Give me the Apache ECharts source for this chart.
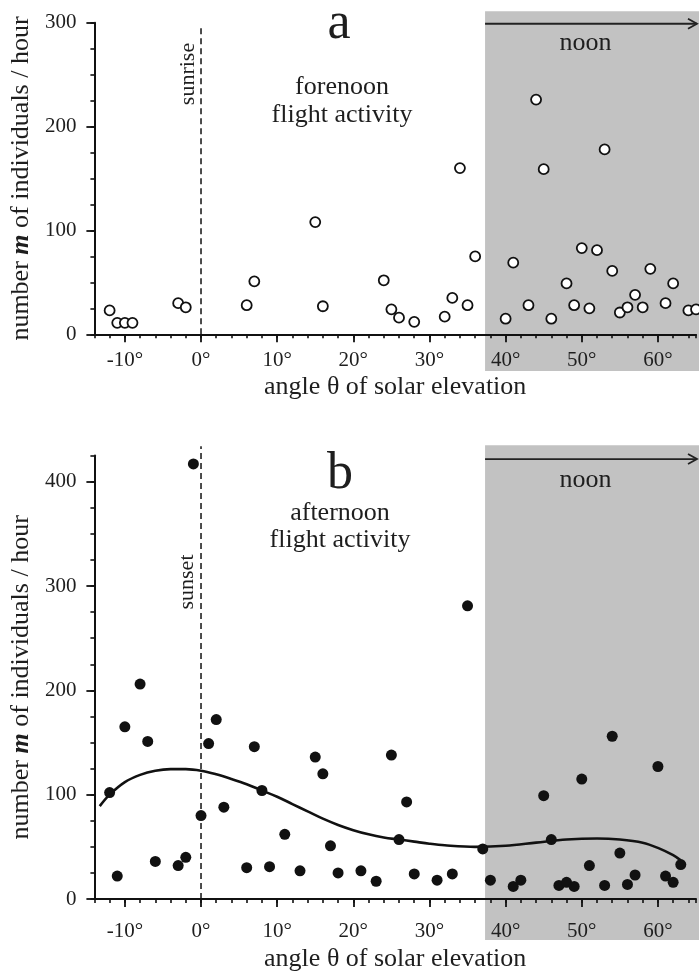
<!DOCTYPE html>
<html>
<head>
<meta charset="utf-8">
<script src="https://cdn.jsdelivr.net/npm/echarts@6/dist/echarts.min.js"></script>
<style>html,body{margin:0;padding:0;background:#fff}#c{width:699px;height:974px}</style>
</head>
<body>
<div id="c"></div>
<script>
// ---- data ----
const forenoonAngle = [-12,-11,-10,-9,-3,-2,6,7,15,16,24,25,26,28,32,33,34,35,36,40,41,43,44,45,46,48,49,50,51,52,53,54,55,56,57,58,59,61,62,64,65];
const forenoonCount = [23,11,11,11,30,26,28,51,108,27,52,24,16,12,17,35,160,28,75,15,69,28,226,159,15,49,28,83,25,81,178,61,21,26,38,26,63,30,49,23,24];

const afternoonAngle = [-12,-11,-10,-8,-7,-6,-3,-2,-1,0,1,2,3,6,7,8,9,11,13,15,16,17,18,21,23,25,26,27,28,31,33,35,37,38,41,42,45,46,47,48,49,50,51,53,54,55,56,57,60,61,62,63];
const afternoonCount = [102,22,165,206,151,36,32,40,417,80,149,172,88,30,146,104,31,62,27,136,120,51,25,27,17,138,57,93,24,18,24,281,48,18,12,18,99,57,13,16,12,115,32,13,156,44,14,23,127,22,16,33];

const fitAngle = [-13.3,-12,-10,-8,-6,-4,-2,0,2,4,6,8,10,12,14,16,18,20,22,24,26,28,30,32,36,40,44,48,52,55,58,60,62,63];
const fitCount = [89,100,112,119,123,124.5,124.5,123,119.5,115,110,104,98,91,84,77,71,66,62,59,57,55,53,51.5,50,51,54,57,58,57,54,49,42,37];

const xTickLabels = [-10,0,10,20,30,40,50,60];
const yTickLabelsA = [0,100,200,300];
const yTickLabelsB = [0,100,200,300,400];
const xMin = -14, xMax = 65;
const yMaxA = 300, yMaxB = 425;
const noonStartAngle = 37.3;
const sunLineTopA = 298, sunLineTopB = 434;

// ---- helpers ----
const FONT = '"Liberation Serif", "DejaVu Serif", serif';
const TXT = '#1e1e1e';
const pairs = (xs, ys) => xs.map((x, i) => [x, ys[i]]);

function noonRenderer(grayBottom, grayTop, arrowY, textY) {
  return function (params, api) {
    const x0 = api.value(0);
    const tl = api.coord([x0, grayTop]);
    const br = api.coord([xMax, grayBottom]);
    const a = api.coord([x0, arrowY]);
    const tipX = 697;
    const t = api.coord([50.5, textY]);
    return {
      type: 'group',
      children: [
        { type: 'rect', shape: { x: tl[0], y: tl[1], width: br[0] - tl[0] + 5, height: br[1] - tl[1] }, style: { fill: '#c2c2c2' } },
        { type: 'line', shape: { x1: a[0], y1: a[1], x2: tipX, y2: a[1] }, style: { stroke: '#222', lineWidth: 1.8 } },
        { type: 'polyline', shape: { points: [[tipX - 9, a[1] - 5], [tipX, a[1]], [tipX - 9, a[1] + 5]] }, style: { stroke: '#222', lineWidth: 1.8, fill: null } },
        { type: 'text', style: { text: 'noon', x: t[0], y: t[1], font: '26px ' + FONT, fill: TXT, align: 'center', verticalAlign: 'middle', textAlign: 'center', textVerticalAlign: 'middle' } }
      ]
    };
  };
}

function xAxes(gridIndex, labelMargin, nameGap) {
  return [
    {
      type: 'value', gridIndex, min: xMin, max: xMax, interval: 2, position: 'bottom', z: 5,
      axisLine: { show: true, onZero: false, lineStyle: { color: '#111', width: 2 } },
      axisTick: { show: true, inside: false, length: 4, lineStyle: { color: '#111', width: 1.6 } },
      axisLabel: {
        show: true, margin: labelMargin, fontSize: 21, fontFamily: FONT, color: TXT,
        formatter: v => (xTickLabels.indexOf(v) >= 0 ? v + '°' : '')
      },
      splitLine: { show: false },
      name: 'angle θ of solar elevation', nameLocation: 'middle', nameGap,
      nameTextStyle: { fontSize: 26, fontFamily: FONT, color: TXT }
    },
    {
      type: 'value', gridIndex, min: xMin, max: xMax, position: 'bottom', z: 5,
      axisLine: { show: false, onZero: false },
      axisTick: { show: true, inside: false, length: 8, customValues: xTickLabels, lineStyle: { color: '#111', width: 1.8 } },
      axisLabel: { show: false },
      splitLine: { show: false }
    }
  ];
}

function yAxes(gridIndex, yMax, labels) {
  return [
    {
      type: 'value', gridIndex, min: 0, max: yMax, interval: 25, position: 'left', z: 5,
      axisLine: { show: true, onZero: false, lineStyle: { color: '#111', width: 2 } },
      axisTick: { show: true, inside: false, length: 4, lineStyle: { color: '#111', width: 1.6 } },
      axisLabel: {
        show: true, margin: 18, fontSize: 21, fontFamily: FONT, color: TXT,
        formatter: v => (labels.indexOf(v) >= 0 ? String(v) : '')
      },
      splitLine: { show: false },
      name: 'number {i|m} of individuals / hour', nameLocation: 'middle', nameGap: 57,
      nameTextStyle: {
        fontSize: 26, fontFamily: FONT, color: TXT,
        rich: { i: { fontSize: 26, fontFamily: FONT, fontStyle: 'italic', fontWeight: 'bold', color: TXT } }
      }
    },
    {
      type: 'value', gridIndex, min: 0, max: yMax, position: 'left', z: 5,
      axisLine: { show: false, onZero: false },
      axisTick: { show: true, inside: false, length: 8, customValues: labels, lineStyle: { color: '#111', width: 1.8 } },
      axisLabel: { show: false },
      splitLine: { show: false }
    }
  ];
}

const chart = echarts.init(document.getElementById('c'), null, { renderer: 'canvas' });

const option = {
  backgroundColor: '#fff',
  animation: false,
  grid: [
    { left: 91.7, top: 22.7, width: 610, height: 311.6 },
    { left: 91.7, top: 455.6, width: 610, height: 443.4 }
  ],
  xAxis: [...xAxes(0, 16, 40), ...xAxes(1, 22, 47)],
  yAxis: [...yAxes(0, yMaxA, yTickLabelsA), ...yAxes(1, yMaxB, yTickLabelsB)],
  series: [
    { type: 'custom', xAxisIndex: 0, yAxisIndex: 0, z: 1, clip: false, silent: true,
      data: [[noonStartAngle, 0]], renderItem: noonRenderer(-35.3, 311, 299, 280) },
    { type: 'custom', xAxisIndex: 2, yAxisIndex: 2, z: 1, clip: false, silent: true,
      data: [[noonStartAngle, 0]], renderItem: noonRenderer(-39.3, 435, 421.7, 401.6) },
    { type: 'line', xAxisIndex: 0, yAxisIndex: 0, clip: false, symbol: 'none', z: 3,
      data: [[0, 0], [0, sunLineTopA]], lineStyle: { color: '#222', width: 1.6, type: [6, 4] } },
    { type: 'line', xAxisIndex: 2, yAxisIndex: 2, clip: false, symbol: 'none', z: 3,
      data: [[0, 0], [0, sunLineTopB]], lineStyle: { color: '#222', width: 1.6, type: [6, 4] } },
    { type: 'scatter', xAxisIndex: 0, yAxisIndex: 0, clip: false, z: 6,
      data: pairs(forenoonAngle, forenoonCount), symbol: 'circle', symbolSize: 10,
      itemStyle: { color: '#fff', borderColor: '#111', borderWidth: 1.8, opacity: 1 } },
    { type: 'line', xAxisIndex: 2, yAxisIndex: 2, clip: false, symbol: 'none', smooth: 0.35, z: 6,
      data: pairs(fitAngle, fitCount), lineStyle: { color: '#111', width: 2.6 } },
    { type: 'scatter', xAxisIndex: 2, yAxisIndex: 2, clip: false, z: 7,
      data: pairs(afternoonAngle, afternoonCount), symbol: 'circle', symbolSize: 11,
      itemStyle: { color: '#111', opacity: 1 } }
  ],
  graphic: [
    { type: 'text', x: 339, y: 24, style: { text: 'a', font: '52px ' + FONT, fill: TXT, align: 'center', verticalAlign: 'middle' } },
    { type: 'text', x: 342, y: 87, style: { text: 'forenoon', font: '26px ' + FONT, fill: TXT, align: 'center', verticalAlign: 'middle' } },
    { type: 'text', x: 342, y: 115, style: { text: 'flight activity', font: '26px ' + FONT, fill: TXT, align: 'center', verticalAlign: 'middle' } },
    { type: 'text', x: 188, y: 74, rotation: Math.PI / 2, style: { text: 'sunrise', font: '22px ' + FONT, fill: TXT, align: 'center', verticalAlign: 'middle' } },
    { type: 'text', x: 340, y: 474, style: { text: 'b', font: '52px ' + FONT, fill: TXT, align: 'center', verticalAlign: 'middle' } },
    { type: 'text', x: 340, y: 513, style: { text: 'afternoon', font: '26px ' + FONT, fill: TXT, align: 'center', verticalAlign: 'middle' } },
    { type: 'text', x: 340, y: 540, style: { text: 'flight activity', font: '26px ' + FONT, fill: TXT, align: 'center', verticalAlign: 'middle' } },
    { type: 'text', x: 187, y: 582, rotation: Math.PI / 2, style: { text: 'sunset', font: '22px ' + FONT, fill: TXT, align: 'center', verticalAlign: 'middle' } }
  ]
};

chart.setOption(option);
</script>
</body>
</html>
